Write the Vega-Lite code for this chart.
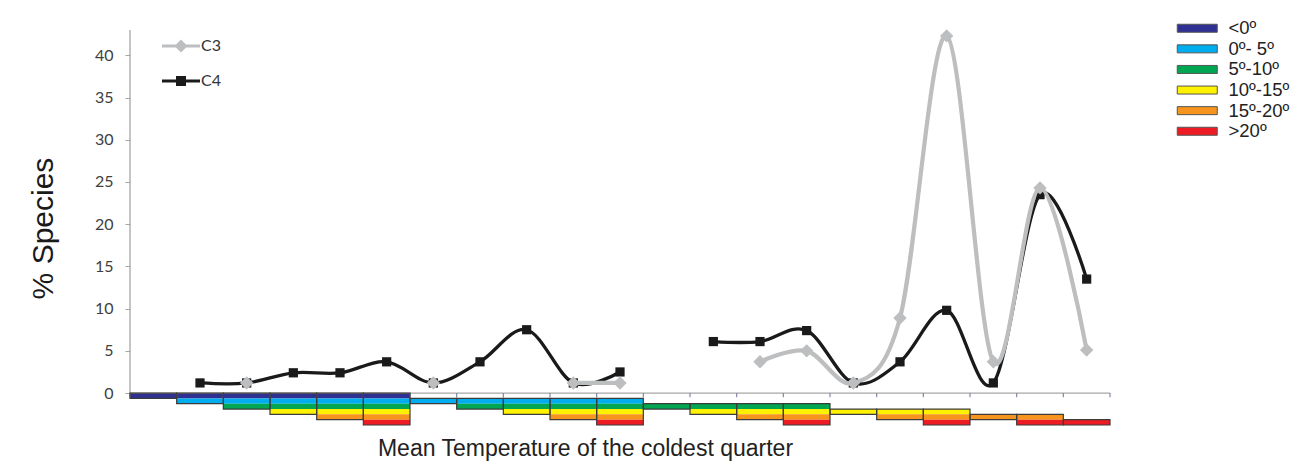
{
  "$schema": "https://vega.github.io/schema/vega-lite/v6.json",
  "width": 980,
  "height": 396,
  "autosize": "none",
  "padding": {"left": 130, "top": 30, "right": 183, "bottom": 41},
  "background": "white",
  "config": {"view": {"stroke": null}, "font": "Liberation Sans"},
  "datasets": {
    "bands": [
      {"c":1,"t":"<0º","top":0,"bot":-0.63},
      {"c":2,"t":"<0º","top":0,"bot":-0.63},{"c":2,"t":"0º- 5º","top":-0.63,"bot":-1.26},
      {"c":3,"t":"<0º","top":0,"bot":-0.63},{"c":3,"t":"0º- 5º","top":-0.63,"bot":-1.26},{"c":3,"t":"5º-10º","top":-1.26,"bot":-1.89},
      {"c":4,"t":"<0º","top":0,"bot":-0.63},{"c":4,"t":"0º- 5º","top":-0.63,"bot":-1.26},{"c":4,"t":"5º-10º","top":-1.26,"bot":-1.89},{"c":4,"t":"10º-15º","top":-1.89,"bot":-2.52},
      {"c":5,"t":"<0º","top":0,"bot":-0.63},{"c":5,"t":"0º- 5º","top":-0.63,"bot":-1.26},{"c":5,"t":"5º-10º","top":-1.26,"bot":-1.89},{"c":5,"t":"10º-15º","top":-1.89,"bot":-2.52},{"c":5,"t":"15º-20º","top":-2.52,"bot":-3.15},
      {"c":6,"t":"<0º","top":0,"bot":-0.63},{"c":6,"t":"0º- 5º","top":-0.63,"bot":-1.26},{"c":6,"t":"5º-10º","top":-1.26,"bot":-1.89},{"c":6,"t":"10º-15º","top":-1.89,"bot":-2.52},{"c":6,"t":"15º-20º","top":-2.52,"bot":-3.15},{"c":6,"t":">20º","top":-3.15,"bot":-3.78},
      {"c":7,"t":"0º- 5º","top":-0.63,"bot":-1.26},
      {"c":8,"t":"0º- 5º","top":-0.63,"bot":-1.26},{"c":8,"t":"5º-10º","top":-1.26,"bot":-1.89},
      {"c":9,"t":"0º- 5º","top":-0.63,"bot":-1.26},{"c":9,"t":"5º-10º","top":-1.26,"bot":-1.89},{"c":9,"t":"10º-15º","top":-1.89,"bot":-2.52},
      {"c":10,"t":"0º- 5º","top":-0.63,"bot":-1.26},{"c":10,"t":"5º-10º","top":-1.26,"bot":-1.89},{"c":10,"t":"10º-15º","top":-1.89,"bot":-2.52},{"c":10,"t":"15º-20º","top":-2.52,"bot":-3.15},
      {"c":11,"t":"0º- 5º","top":-0.63,"bot":-1.26},{"c":11,"t":"5º-10º","top":-1.26,"bot":-1.89},{"c":11,"t":"10º-15º","top":-1.89,"bot":-2.52},{"c":11,"t":"15º-20º","top":-2.52,"bot":-3.15},{"c":11,"t":">20º","top":-3.15,"bot":-3.78},
      {"c":12,"t":"5º-10º","top":-1.26,"bot":-1.89},
      {"c":13,"t":"5º-10º","top":-1.26,"bot":-1.89},{"c":13,"t":"10º-15º","top":-1.89,"bot":-2.52},
      {"c":14,"t":"5º-10º","top":-1.26,"bot":-1.89},{"c":14,"t":"10º-15º","top":-1.89,"bot":-2.52},{"c":14,"t":"15º-20º","top":-2.52,"bot":-3.15},
      {"c":15,"t":"5º-10º","top":-1.26,"bot":-1.89},{"c":15,"t":"10º-15º","top":-1.89,"bot":-2.52},{"c":15,"t":"15º-20º","top":-2.52,"bot":-3.15},{"c":15,"t":">20º","top":-3.15,"bot":-3.78},
      {"c":16,"t":"10º-15º","top":-1.89,"bot":-2.52},
      {"c":17,"t":"10º-15º","top":-1.89,"bot":-2.52},{"c":17,"t":"15º-20º","top":-2.52,"bot":-3.15},
      {"c":18,"t":"10º-15º","top":-1.89,"bot":-2.52},{"c":18,"t":"15º-20º","top":-2.52,"bot":-3.15},{"c":18,"t":">20º","top":-3.15,"bot":-3.78},
      {"c":19,"t":"15º-20º","top":-2.52,"bot":-3.15},
      {"c":20,"t":"15º-20º","top":-2.52,"bot":-3.15},{"c":20,"t":">20º","top":-3.15,"bot":-3.78},
      {"c":21,"t":">20º","top":-3.15,"bot":-3.78}
    ],
    "pct": [
      {"c":1,"s":"C4","v":null},{"c":2,"s":"C4","v":1.2},{"c":3,"s":"C4","v":1.2},{"c":4,"s":"C4","v":2.4},{"c":5,"s":"C4","v":2.4},{"c":6,"s":"C4","v":3.7},{"c":7,"s":"C4","v":1.2},{"c":8,"s":"C4","v":3.7},{"c":9,"s":"C4","v":7.5},{"c":10,"s":"C4","v":1.2},{"c":11,"s":"C4","v":2.5},{"c":12,"s":"C4","v":null},{"c":13,"s":"C4","v":6.1},{"c":14,"s":"C4","v":6.1},{"c":15,"s":"C4","v":7.4},{"c":16,"s":"C4","v":1.2},{"c":17,"s":"C4","v":3.7},{"c":18,"s":"C4","v":9.8},{"c":19,"s":"C4","v":1.2},{"c":20,"s":"C4","v":23.5},{"c":21,"s":"C4","v":13.5},
      {"c":1,"s":"C3","v":null},{"c":2,"s":"C3","v":null},{"c":3,"s":"C3","v":1.2},{"c":4,"s":"C3","v":null},{"c":5,"s":"C3","v":null},{"c":6,"s":"C3","v":null},{"c":7,"s":"C3","v":1.2},{"c":8,"s":"C3","v":null},{"c":9,"s":"C3","v":null},{"c":10,"s":"C3","v":1.2},{"c":11,"s":"C3","v":1.2},{"c":12,"s":"C3","v":null},{"c":13,"s":"C3","v":null},{"c":14,"s":"C3","v":3.7},{"c":15,"s":"C3","v":5.0},{"c":16,"s":"C3","v":1.2},{"c":17,"s":"C3","v":8.9},{"c":18,"s":"C3","v":42.3},{"c":19,"s":"C3","v":3.7},{"c":20,"s":"C3","v":24.3},{"c":21,"s":"C3","v":5.1}
    ]
  },
  "layer": [
    {
      "data": {"name": "bands"},
      "mark": {"type": "bar", "strokeWidth": 0},
      "encoding": {
        "x": {"field": "c", "type": "ordinal",
          "scale": {"domain": [1,2,3,4,5,6,7,8,9,10,11,12,13,14,15,16,17,18,19,20,21], "paddingInner": 0, "paddingOuter": 0},
          "axis": {"title": "Mean Temperature of the coldest quarter", "labels": false, "ticks": false, "domain": false, "grid": false,
            "titleFont": "Liberation Sans", "titleFontSize": 23, "titleFontWeight": "normal", "titleColor": "#222222",
            "titlePadding": 11, "titleX": 455, "titleAlign": "center"}},
        "y": {"field": "top", "type": "quantitative",
          "scale": {"domain": [-3.9, 43], "nice": false, "zero": false},
          "axis": {"values": [0,5,10,15,20,25,30,35,40], "domain": false, "grid": false, "tickColor": "#a6a6a6", "tickSize": 5,
            "labelFont": "Lato", "labelFontSize": 16, "labelColor": "#404040", "labelPadding": 12,
            "title": "% Species", "titleFont": "Liberation Sans", "titleFontSize": 30, "titleFontWeight": "normal", "titleColor": "#1a1a1a", "titlePadding": 36}},
        "y2": {"field": "bot"},
        "fill": {"field": "t", "type": "nominal",
          "scale": {"domain": ["<0º","0º- 5º","5º-10º","10º-15º","15º-20º",">20º"], "range": ["#2e3192","#00aeef","#00a651","#fff200","#f7941d","#ed1c24"]},
          "legend": {"title": null, "orient": "none", "legendX": 1042, "legendY": -11, "padding": 0,
            "symbolType": "M-1,-1H9V1H-1Z", "symbolSize": 64, "symbolStrokeColor": "#555555", "symbolStrokeWidth": 1,
            "labelFont": "Liberation Sans", "labelFontSize": 18.5, "labelColor": "#222222", "labelOffset": 38, "rowPadding": 1.6,
            "labelExpr": "datum.label == '<0º' ? '\u00a0\u00a0<0º' : (datum.label == '>20º' ? '\u00a0\u00a0>20º' : datum.label)"}}
      }
    },
    {
      "data": {"values": [{}]},
      "mark": {"type": "rule", "color": "#a6a6a6", "strokeWidth": 1.3},
      "encoding": {"y": {"datum": 0}}
    },
    {
      "data": {"values": [{}]},
      "mark": {"type": "rule", "color": "#a6a6a6", "strokeWidth": 1.3},
      "encoding": {"x": {"datum": 1, "type": "ordinal", "bandPosition": 0}, "y": {"datum": 0}, "y2": {"datum": 43}}
    },
    {
      "data": {"name": "pct"},
      "transform": [{"filter": "datum.s == 'C4'"}],
      "mark": {"type": "rule", "color": "#8486a6", "strokeWidth": 1.2},
      "encoding": {"x": {"field": "c", "type": "ordinal", "bandPosition": 0}, "y": {"datum": 0}, "y2": {"datum": -0.5}}
    },
    {
      "data": {"values": [{}]},
      "mark": {"type": "rule", "color": "#8486a6", "strokeWidth": 1.2},
      "encoding": {"x": {"datum": 21, "type": "ordinal", "bandPosition": 1}, "y": {"datum": 0}, "y2": {"datum": -0.5}}
    },
    {
      "data": {"name": "bands"},
      "mark": {"type": "bar", "fillOpacity": 0, "stroke": "#3c3c3c", "strokeWidth": 1.2},
      "encoding": {
        "x": {"field": "c", "type": "ordinal"},
        "y": {"aggregate": "max", "field": "top", "type": "quantitative"},
        "y2": {"aggregate": "min", "field": "bot"}
      }
    },
    {
      "data": {"name": "pct"},
      "transform": [{"filter": "datum.s == 'C4'"}],
      "mark": {"type": "line", "interpolate": "cardinal", "color": "#1a1a1a", "strokeWidth": 3.3, "invalid": "break-paths-show-domains"},
      "encoding": {"x": {"field": "c", "type": "ordinal"}, "y": {"field": "v", "type": "quantitative"}}
    },
    {
      "data": {"name": "pct"},
      "transform": [{"filter": "datum.s == 'C4' && datum.v != null"}],
      "mark": {"type": "point", "filled": true, "shape": "square", "size": 85, "color": "#1a1a1a", "opacity": 1},
      "encoding": {"x": {"field": "c", "type": "ordinal"}, "y": {"field": "v", "type": "quantitative"}}
    },
    {
      "data": {"name": "pct"},
      "transform": [{"filter": "datum.s == 'C3'"}],
      "mark": {"type": "line", "interpolate": "cardinal", "color": "#bcbec0", "strokeWidth": 4.2, "invalid": "break-paths-show-domains"},
      "encoding": {"x": {"field": "c", "type": "ordinal"}, "y": {"field": "v", "type": "quantitative"}}
    },
    {
      "data": {"name": "pct"},
      "transform": [{"filter": "datum.s == 'C3' && datum.v != null"}],
      "mark": {"type": "point", "filled": true, "shape": "diamond", "size": 180, "color": "#bcbec0", "opacity": 1},
      "encoding": {"x": {"field": "c", "type": "ordinal"}, "y": {"field": "v", "type": "quantitative"}}
    },
    {
      "data": {"name": "pct"},
      "transform": [{"filter": "datum.v > 999"}],
      "mark": {"type": "point", "filled": true, "opacity": 1},
      "encoding": {
        "x": {"field": "c", "type": "ordinal"},
        "y": {"field": "v", "type": "quantitative"},
        "color": {"field": "s", "type": "nominal", "scale": {"domain": ["C3","C4"], "range": ["#bcbec0","#1a1a1a"]},
          "legend": {"title": null, "orient": "none", "legendX": 28, "legendY": 8, "padding": 0,
            "symbolSize": 64, "symbolOpacity": 1, "symbolStrokeWidth": 0,
            "labelFont": "Lato", "labelFontSize": 16, "labelColor": "#333333", "labelOffset": 27, "rowPadding": 19}},
        "shape": {"field": "s", "type": "nominal", "scale": {"domain": ["C3","C4"], "range": ["M-1,-0.4H8.5V0.4H-1ZM3.75,-1.625L5.375,0L3.75,1.625L2.125,0Z", "M-1,-0.4H8.5V0.4H-1ZM2.5,-1.25H5V1.25H2.5Z"]}}
      }
    }
  ]
}
